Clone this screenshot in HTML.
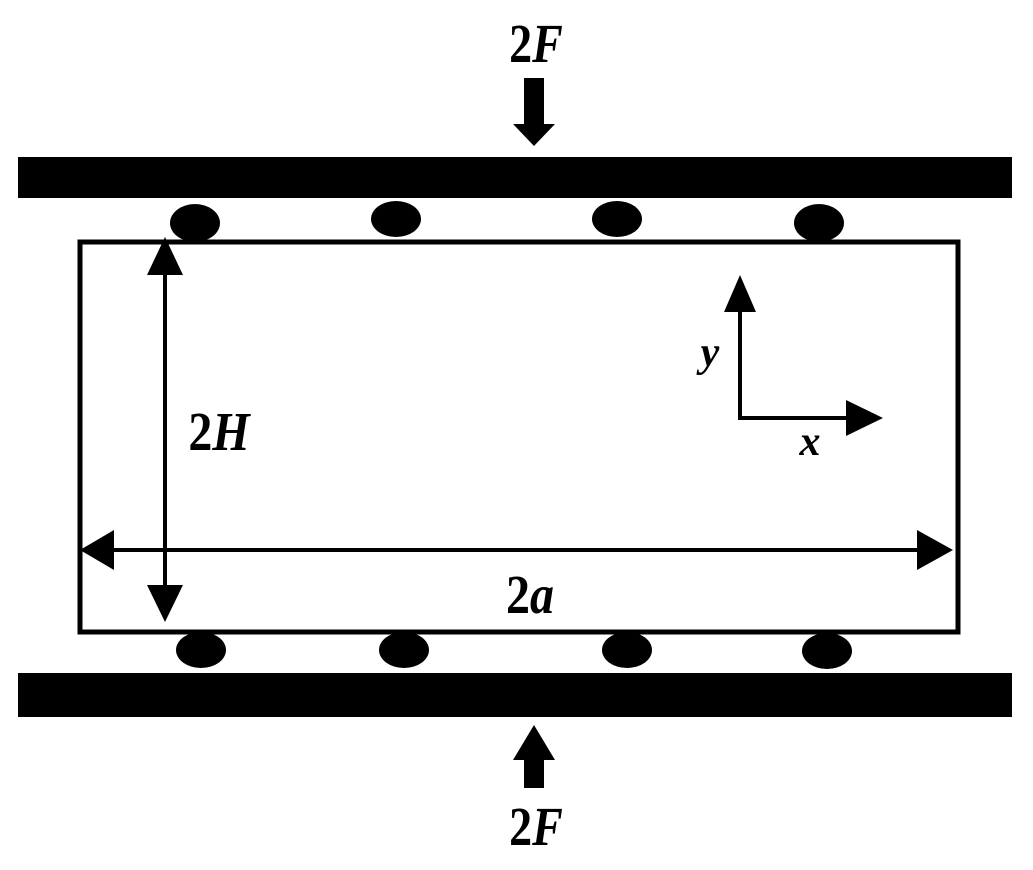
<!DOCTYPE html>
<html><head><style>
html,body{margin:0;padding:0;background:#fff;}
svg text{font-family:"Liberation Serif",serif;font-weight:bold;}
</style></head><body>
<svg width="1033" height="865" viewBox="0 0 1033 865" xmlns="http://www.w3.org/2000/svg">
<rect width="1033" height="865" fill="#fff"/>
<rect x="18" y="157" width="994" height="41" fill="#000"/>
<rect x="18" y="673" width="994" height="44" fill="#000"/>
<rect x="80" y="242" width="878" height="390" fill="none" stroke="#000" stroke-width="5"/>
<g fill="#000">
<ellipse cx="195" cy="223" rx="25" ry="19"/>
<ellipse cx="396" cy="219" rx="25" ry="18"/>
<ellipse cx="617" cy="219" rx="25" ry="18"/>
<ellipse cx="819" cy="223" rx="25" ry="19"/>
<ellipse cx="201" cy="650" rx="25" ry="18"/>
<ellipse cx="404" cy="650" rx="25" ry="18"/>
<ellipse cx="627" cy="650" rx="25" ry="18"/>
<ellipse cx="827" cy="651" rx="25" ry="18"/>
</g>
<rect x="524" y="78" width="20" height="48" fill="#000"/>
<polygon points="513,124 555,124 534,146" fill="#000"/>
<rect x="524" y="757" width="20" height="31" fill="#000"/>
<polygon points="513,760 555,760 534,725" fill="#000"/>
<g transform="translate(536,62) scale(1,1.2)"><text x="0" y="0" font-size="46" text-anchor="middle">2<tspan font-style="italic">F</tspan></text></g>
<g transform="translate(536,845) scale(1,1.2)"><text x="0" y="0" font-size="46" text-anchor="middle">2<tspan font-style="italic">F</tspan></text></g>
<line x1="165" y1="270" x2="165" y2="595" stroke="#000" stroke-width="4"/>
<polygon points="147,275 183,275 165,237" fill="#000"/>
<polygon points="147,585 183,585 165,622" fill="#000"/>
<g transform="translate(219,450) scale(1,1.15)"><text x="0" y="0" font-size="48" text-anchor="middle">2<tspan font-style="italic">H</tspan></text></g>
<line x1="110" y1="550" x2="925" y2="550" stroke="#000" stroke-width="4"/>
<polygon points="114,530 114,570 80,550" fill="#000"/>
<polygon points="917,530 917,570 953,550" fill="#000"/>
<g transform="translate(530,613) scale(1,1.15)"><text x="0" y="0" font-size="48" text-anchor="middle">2<tspan font-style="italic">a</tspan></text></g>
<line x1="740" y1="300" x2="740" y2="418" stroke="#000" stroke-width="4"/>
<polygon points="724,312 756,312 740,275" fill="#000"/>
<line x1="738" y1="418" x2="855" y2="418" stroke="#000" stroke-width="4"/>
<polygon points="846,400 846,436 883,418" fill="#000"/>
<text x="710" y="366" font-size="42" font-style="italic" text-anchor="middle">y</text>
<text x="810" y="455" font-size="42" font-style="italic" text-anchor="middle">x</text>
</svg>
</body></html>
